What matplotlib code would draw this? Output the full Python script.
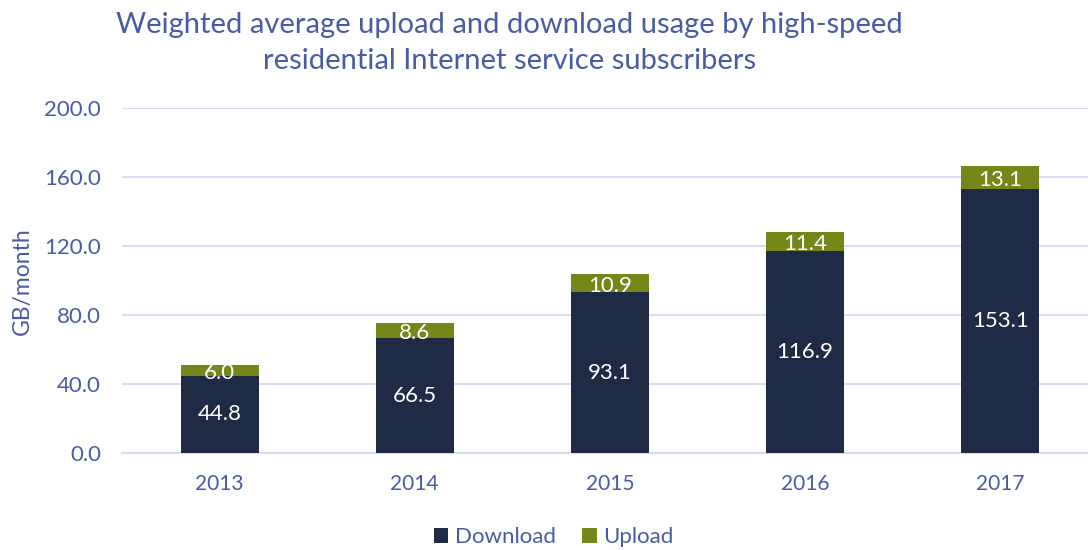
import numpy as np
import matplotlib.pyplot as plt

years = ["2013", "2014", "2015", "2016", "2017"]
download = [44.8, 66.5, 93.1, 116.9, 153.1]
upload = [6.0, 8.6, 10.9, 11.4, 13.1]

navy = "#1F2A44"
olive = "#76871A"
text_blue = "#4A5BA5"
grid_col = "#D9DCF0"

plt.rcParams['font.family'] = ['Lato', 'DejaVu Sans']

fig = plt.figure(figsize=(10.88, 5.5), dpi=100)
ax = fig.add_axes([0.1121, 0.1764, 0.8879, 0.6272])

x = np.arange(len(years))
w = 0.4
b1 = ax.bar(x, download, w, color=navy, label="Download", zorder=3)
b2 = ax.bar(x, upload, w, bottom=download, color=olive, label="Upload", zorder=3)

# value labels inside each segment
for i in range(len(years)):
    ax.text(x[i], download[i] / 2, f"{download[i]:.1f}", ha="center", va="center",
            color="white", fontsize=16, zorder=4)
    ax.text(x[i], download[i] + upload[i] / 2 - 1.5, f"{upload[i]:.1f}", ha="center",
            va="center", color="white", fontsize=16, zorder=4)

ax.set_ylim(0, 200)
ax.set_yticks(np.arange(0, 201, 40))
ax.set_yticklabels([f"{v:.1f}" for v in np.arange(0, 201, 40)])
ax.set_xlim(-0.5, 4.45)
ax.set_xticks(x)
ax.set_xticklabels(years)
ax.tick_params(axis="y", length=0, labelsize=16, labelcolor=text_blue, pad=15)
ax.tick_params(axis="x", length=0, labelsize=15, labelcolor=text_blue, pad=15)
ax.yaxis.grid(True, color=grid_col, linewidth=1.5, zorder=0)
for s in ax.spines.values():
    s.set_visible(False)
ax.spines["bottom"].set_visible(True)
ax.spines["bottom"].set_color(grid_col)
ax.spines["bottom"].set_linewidth(1.5)

fig.text(0.0202, 0.489, "GB/month", rotation=90, ha="center", va="center",
         color=text_blue, fontsize=16.5)

fig.text(0.468, 0.978, "Weighted average upload and download usage by high-speed\nresidential Internet service subscribers",
         ha="center", va="top", color=text_blue, fontsize=21, linespacing=1.45)

fig.legend(handles=[b1, b2], loc="center", bbox_to_anchor=(0.509, 0.023), ncol=2,
           frameon=False, fontsize=16, labelcolor=text_blue, handlelength=0.65,
           handleheight=0.65, handletextpad=0.3, columnspacing=1.2)

plt.savefig("out.png", dpi=100)
